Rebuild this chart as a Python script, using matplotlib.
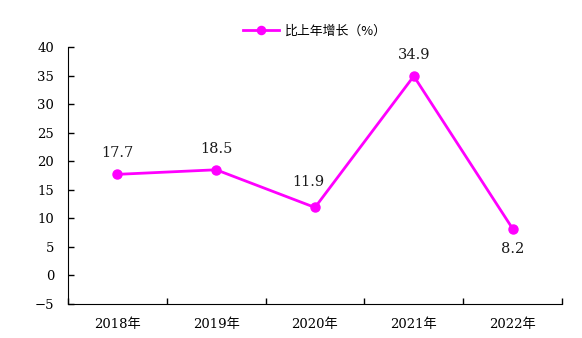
import matplotlib.pyplot as plt
import numpy as np

plt.rcParams['font.family'] = ['DejaVu Serif', 'Noto Sans CJK SC']

years = ['2018年', '2019年', '2020年', '2021年', '2022年']
growth = [17.7, 18.5, 11.9, 34.9, 8.2]

# label offsets in points (dx, dy)
label_offsets = [(0, 10), (0, 10), (-5, 13), (0, 10), (0, -10)]

fig = plt.figure(figsize=(5.82, 3.38), dpi=100)
ax = fig.add_axes([0.1168, 0.1006, 0.8488, 0.7604])

x = np.arange(len(years))
ax.plot(x, growth, color='#FF00FF', lw=2, marker='o', ms=6.5, label='比上年增长（%）')

for xi, v, (dx, dy) in zip(x, growth, label_offsets):
    ax.annotate(f'{v}', (xi, v), xytext=(dx, dy), textcoords='offset points',
                ha='center', va='bottom' if dy > 0 else 'top',
                fontsize=10.5, color='#1a1a1a')

ax.set_xlim(-0.5, len(years) - 0.5)
ax.set_ylim(-5, 40)
ax.set_yticks(range(-5, 41, 5))
ax.set_xticks(x)
ax.set_xticklabels(years)
ax.set_xticks(np.arange(-0.5, len(years)), minor=True)
ax.tick_params(axis='x', which='major', length=0, labelsize=9.5, pad=10)
ax.tick_params(axis='x', which='minor', direction='in', length=4, width=1)
ax.tick_params(axis='y', direction='in', length=4, width=1, labelsize=9.5, pad=10)

ax.spines['top'].set_visible(False)
ax.spines['right'].set_visible(False)

ax.legend(loc='lower center', bbox_to_anchor=(0.5, 1.0), frameon=False,
          handlelength=2.8, handletextpad=0.5, borderaxespad=0.3, markerscale=0.9,
          prop={'family': ['Noto Sans CJK SC'], 'size': 9.3})

fig.savefig('out.png', dpi=100)
